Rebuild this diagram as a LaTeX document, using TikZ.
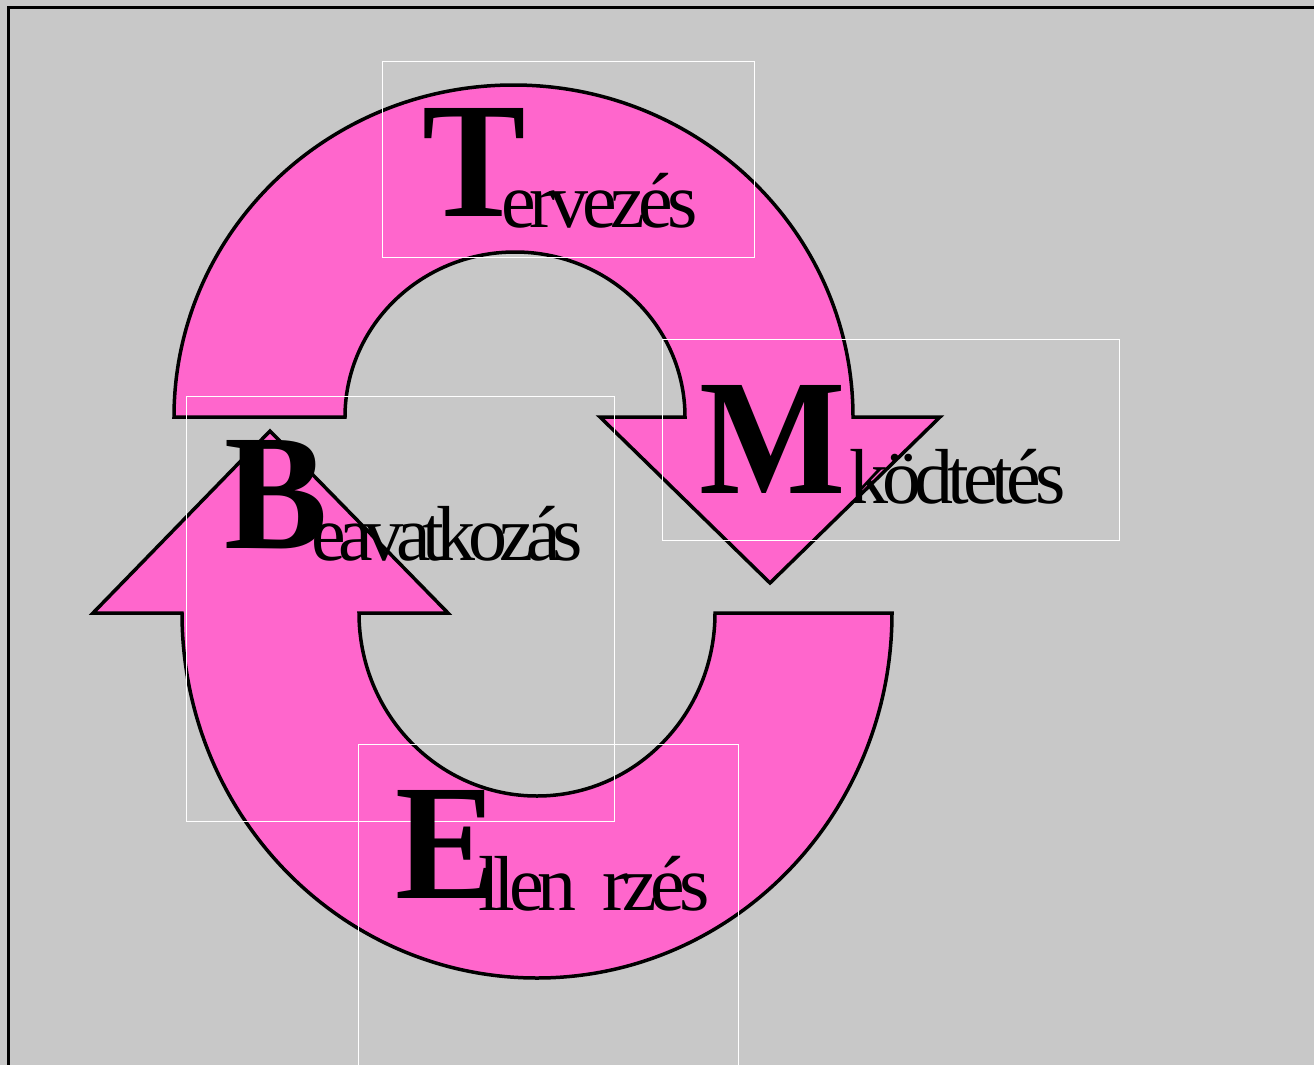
\documentclass[tikz,border=0pt]{standalone}
\usepackage{fontspec}
\setmainfont{Liberation Serif}
\newfontfamily\tightfont[LetterSpace=-8]{Liberation Serif}
\newfontfamily\tighterfont[LetterSpace=-10]{Liberation Serif}
\definecolor{pinkfill}{HTML}{FF66CC}
\definecolor{bggray}{HTML}{C8C8C8}
\tikzset{
  arrowshape/.style={fill=pinkfill, draw=black, line width=3.5pt, line join=miter},
  textframe/.style={draw=white, line width=0.9pt},
  initial/.style={anchor=base west, inner sep=0pt, font=\fontsize{165}{165}\selectfont\bfseries},
  rest/.style={anchor=base west, inner sep=0pt, font=\tightfont\fontsize{78}{78}\selectfont},
  resttight/.style={rest, font=\tighterfont\fontsize{78}{78}\selectfont},
}
\begin{document}
\begin{tikzpicture}[x=1pt,y=-1pt]
\useasboundingbox (0,0) rectangle (1314,1065);
\fill[bggray] (0,0) rectangle (1314,1065);
\begin{scope}
\clip (0,0) rectangle (1314,1065);
\draw[line width=3pt] (8,1080) -- (8,8) -- (1330,8);
% upper arc arrow
\draw[arrowshape] (174,417) arc[start angle=180,end angle=360,x radius=339.5,y radius=332]
  -- (940,417) -- (770,583) -- (600,417) -- (685,417)
  arc[start angle=0,end angle=-180,x radius=170,y radius=165] -- cycle;
% lower arc arrow
\draw[arrowshape] (892,613) arc[start angle=0,end angle=180,x radius=355,y radius=365]
  -- (93,613) -- (270,431) -- (448,613) -- (359,613)
  arc[start angle=180,end angle=0,x radius=178,y radius=183] -- cycle;
% text frames
\draw[textframe] (382,61) rectangle (754,257);
\draw[textframe] (662,339) rectangle (1119,540);
\draw[textframe] (186,396) rectangle (614,821);
\draw[textframe] (358,744) rectangle (738,1075);
\end{scope}
% texts
\node[initial] (T) at (422,216) {\scalebox{0.94}[1]{T}};
\node[rest] (Tr) at (501,227) {ervezés};
\node[initial] (M) at (699,493) {\scalebox{0.94}[1]{M}};
\node[rest] (Mr) at (849,503) {ködtetés};
\node[initial] (B) at (224,548) {\scalebox{0.94}[1]{B}};
\node[resttight] (Br) at (311,560) {eavatkozás};
\node[initial] (E) at (395,898) {\scalebox{0.94}[1]{E}};
\node[rest] (Er) at (478,910) {llen\hspace{26pt}rzés};
\end{tikzpicture}
\end{document}
